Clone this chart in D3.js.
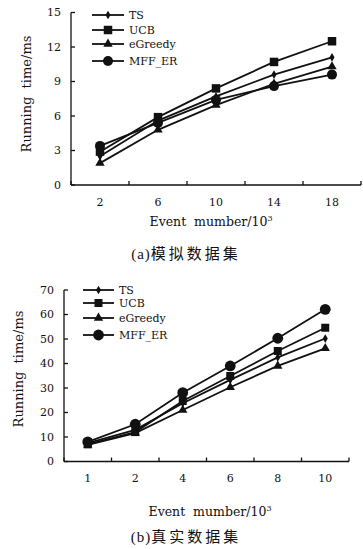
<!DOCTYPE html>
<html>
<head>
<meta charset="utf-8">
<script src="https://cdn.jsdelivr.net/npm/d3@7"></script>
<style>
  body { margin: 0; background: #fff; }
  svg { display: block; }
  text { font-family: "DejaVu Serif", "Liberation Serif", serif; fill: #111; }
  .cap { font-family: "Liberation Serif", "Noto Sans CJK SC", serif; }
</style>
</head>
<body>
<div id="chart"></div>
<script>
// series names, shared by both panels
var seriesNames = ["TS", "UCB", "eGreedy", "MFF_ER"];
var markerOf = { "TS": "diamond", "UCB": "square", "eGreedy": "triangle", "MFF_ER": "circle" };

// (a) simulated data set
var catsA = ["2", "6", "10", "14", "18"];
var tsA = [2.5, 5.6, 7.7, 9.6, 11.1];
var ucbA = [2.9, 5.9, 8.4, 10.7, 12.5];
var egA = [1.9, 4.8, 6.95, 8.8, 10.3];
var mffA = [3.4, 5.4, 7.4, 8.6, 9.6];
var yTicksA = [0, 3, 6, 9, 12, 15];

// (b) real data set
var catsB = ["1", "2", "4", "6", "8", "10"];
var tsB = [7.5, 12.9, 23.8, 33.3, 42.5, 50.2];
var ucbB = [7.0, 12.0, 24.7, 34.9, 45.1, 54.6];
var egB = [6.8, 11.6, 21.0, 30.3, 39.0, 46.2];
var mffB = [8.0, 15.2, 28.1, 39.0, 50.3, 62.1];
var yTicksB = [0, 10, 20, 30, 40, 50, 60, 70];

var svg = d3.select("#chart").append("svg")
    .attr("width", 363)
    .attr("height", 549);

function drawPanel(p) {
    var g = svg.append("g");

    var x = d3.scaleBand().domain(p.cats).range([p.left, p.right]);
    var y = d3.scaleLinear().domain([0, p.yMax]).range([p.bottom, p.top]);

    // category labels from the band axis
    g.append("g")
        .attr("transform", "translate(0," + p.bottom + ")")
        .call(d3.axisBottom(x).tickSize(0).tickPadding(13))
        .call(function (a) {
            a.attr("font-family", null).attr("font-size", null);
            a.select(".domain").remove();
            a.selectAll("text").style("font-size", "11px");
        });

    // axes: ticks point inward
    g.append("line")
        .attr("x1", p.left).attr("x2", p.right)
        .attr("y1", p.bottom).attr("y2", p.bottom)
        .attr("stroke", "#111").attr("stroke-width", 1.3);
    var bounds = [p.left].concat(p.cats.map(function (c) { return x(c) + x.bandwidth(); }));
    g.selectAll(".xt").data(bounds).enter().append("line")
        .attr("x1", function (d) { return d; }).attr("x2", function (d) { return d; })
        .attr("y1", p.bottom).attr("y2", p.bottom - 4)
        .attr("stroke", "#111").attr("stroke-width", 1.3);

    g.append("line")
        .attr("x1", p.left).attr("x2", p.left)
        .attr("y1", p.bottom).attr("y2", p.top)
        .attr("stroke", "#111").attr("stroke-width", 1.3);
    g.selectAll(".yt").data(p.yTicks).enter().append("line")
        .attr("x1", p.left).attr("x2", p.left + 4)
        .attr("y1", function (d) { return y(d); }).attr("y2", function (d) { return y(d); })
        .attr("stroke", "#111").attr("stroke-width", 1.3);
    g.selectAll(".yl").data(p.yTicks).enter().append("text")
        .attr("x", p.left - 10)
        .attr("y", function (d) { return y(d); })
        .attr("dy", "0.35em")
        .attr("text-anchor", "end")
        .style("font-size", "11px")
        .text(function (d) { return d; });

    // axis titles
    g.append("text")
        .attr("transform", "translate(" + p.yLabelX + "," + p.yLabelY + ") rotate(-90)")
        .attr("text-anchor", "middle")
        .style("font-size", "13px")
        .style("white-space", "pre")
        .text("Running  time/ms");

    var xt = g.append("text")
        .attr("x", p.xTitleX)
        .attr("y", p.xTitleY)
        .attr("text-anchor", "middle")
        .style("font-size", "12.5px")
        .style("white-space", "pre")
        .text("Event  mumber/10");
    xt.append("tspan").attr("dy", -5).style("font-size", "8px").text("3");

    var cap = g.append("text")
        .attr("class", "cap")
        .attr("x", 186)
        .attr("y", p.capY)
        .attr("text-anchor", "middle")
        .style("font-size", "15px");
    cap.append("tspan").style("letter-spacing", "1px").text(p.capTag);
    cap.append("tspan").style("letter-spacing", "3px").text(p.caption);

    // lines and markers
    var line = d3.line()
        .x(function (d, i) { return x(p.cats[i]) + x.bandwidth() / 2; })
        .y(function (d) { return y(d); });

    seriesNames.forEach(function (name, k) {
        var vals = p.values[k];
        g.append("path")
            .attr("d", line(vals))
            .attr("fill", "none")
            .attr("stroke", "#111")
            .attr("stroke-width", 1.8);
        vals.forEach(function (v, i) {
            drawMarker(g, markerOf[name], x(p.cats[i]) + x.bandwidth() / 2, y(v), p.ms);
        });
    });

    // legend
    seriesNames.forEach(function (name, k) {
        var ly = p.legendY[k];
        g.append("line")
            .attr("x1", p.legX1).attr("x2", p.legX2)
            .attr("y1", ly).attr("y2", ly)
            .attr("stroke", "#111").attr("stroke-width", 1.8);
        drawMarker(g, markerOf[name], (p.legX1 + p.legX2) / 2, ly, p.ms);
        g.append("text")
            .attr("x", p.legX2 + 5)
            .attr("y", ly)
            .attr("dy", "0.35em")
            .style("font-size", "11px")
            .text(name);
    });
}

function drawMarker(g, type, cx, cy, s) {
    var sym;
    if (type === "circle") {
        g.append("circle").attr("cx", cx).attr("cy", cy).attr("r", s.circle).attr("fill", "#111");
        return;
    }
    if (type === "square") sym = d3.symbol(d3.symbolSquare, s.square * s.square);
    if (type === "triangle") sym = d3.symbol(d3.symbolTriangle, s.tri);
    if (type === "diamond") sym = d3.symbol(d3.symbolDiamond, s.dia);
    g.append("path")
        .attr("transform", "translate(" + cx + "," + cy + ")")
        .attr("d", sym())
        .attr("fill", "#111");
}

drawPanel({
    cats: catsA, values: [tsA, ucbA, egA, mffA], yTicks: yTicksA, yMax: 15,
    left: 71, right: 361, top: 12.5, bottom: 185,
    yLabelX: 31, yLabelY: 94, xTitleX: 211, xTitleY: 226, capY: 259,
    capTag: "(a)", caption: "模拟数据集",
    legendY: [15, 30, 44, 61], legX1: 92, legX2: 124,
    ms: { circle: 5, square: 8.5, tri: 38, dia: 22 }
});

drawPanel({
    cats: catsB, values: [tsB, ucbB, egB, mffB], yTicks: yTicksB, yMax: 70,
    left: 64, right: 349, top: 290, bottom: 461.5,
    yLabelX: 23, yLabelY: 369, xTitleX: 210, xTitleY: 516, capY: 542,
    capTag: "(b)", caption: "真实数据集",
    legendY: [290, 303, 318, 335], legX1: 83, legX2: 114,
    ms: { circle: 5.4, square: 8, tri: 38, dia: 22 }
});
</script>
</body>
</html>
